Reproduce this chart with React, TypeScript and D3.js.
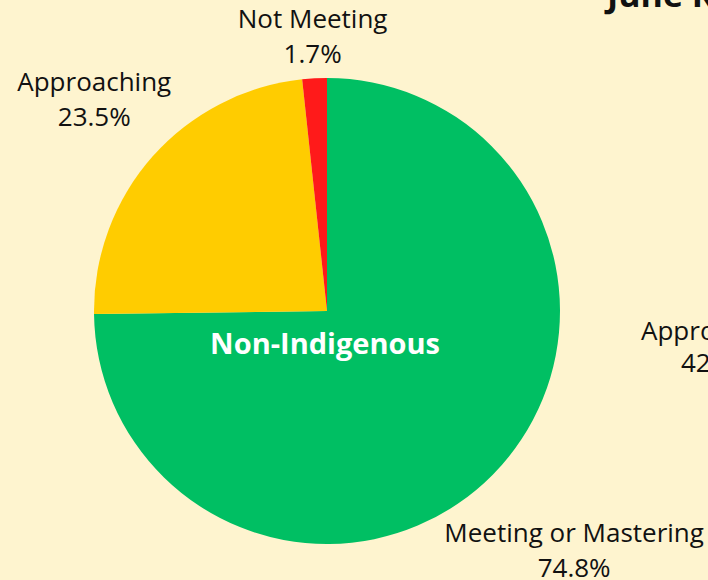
import React, { useEffect, useRef } from "react";
import * as d3 from "d3";

const categories = ["Meeting or Mastering", "Approaching", "Not Meeting"];
const values = [74.8, 23.5, 1.7];
const colors = ["#00BF63", "#FFCC00", "#FF1A1A"];
const groupTitle = "Non-Indigenous";
const nextTitle = "June Reading";
const nextLabel = ["Approaching", "42.3%"];

function App() {
  const ref = useRef(null);

  useEffect(() => {
    const width = 708;
    const height = 580;
    const cx = 327;
    const cy = 311;
    const radius = 233;
    const font = "'Open Sans', sans-serif";

    d3.select(ref.current).select("svg").remove();

    const svg = d3
      .select(ref.current)
      .append("svg")
      .attr("width", width)
      .attr("height", height)
      .style("position", "absolute")
      .style("left", 0)
      .style("top", 0);

    svg.append("rect").attr("width", width).attr("height", height).attr("fill", "#FEF4CF");

    const data = categories.map((c, i) => ({ key: c, value: values[i], color: colors[i] }));
    const pie = d3.pie().sort(null).value((d) => d.value);
    const arcs = pie(data);
    const arc = d3.arc().innerRadius(0).outerRadius(radius);

    const g = svg.append("g").attr("transform", `translate(${cx},${cy})`);

    g.selectAll("path")
      .data(arcs)
      .enter()
      .append("path")
      .attr("d", arc)
      .attr("fill", (d) => d.data.color);

    // outside labels, pushed out along the mid angle until the box clears the pie
    const gap = -3;
    const lift = 6;
    arcs.forEach((a) => {
      const mid = (a.startAngle + a.endAngle) / 2;
      const ux = Math.sin(mid);
      const uy = -Math.cos(mid);
      const t = g
        .append("text")
        .attr("text-anchor", "middle")
        .style("font-family", font)
        .style("font-size", "26px")
        .attr("fill", "#111");
      t.append("tspan").attr("x", 0).attr("dy", 0).text(a.data.key);
      t.append("tspan").attr("x", 0).attr("dy", 35).text(a.data.value.toFixed(1) + "%");
      const bb = t.node().getBBox();
      const hw = bb.width / 2;
      const hh = bb.height / 2;
      const d = radius + gap + Math.abs(ux) * hw + Math.abs(uy) * hh;
      const lx = ux * d;
      const ly = uy * d;
      t.attr("transform", `translate(${lx},${ly - (bb.y + hh) - lift})`);
    });

    g.append("text")
      .attr("x", -2)
      .attr("y", 43)
      .attr("text-anchor", "middle")
      .style("font-family", font)
      .style("font-size", "29px")
      .style("font-weight", "bold")
      .attr("fill", "#fff")
      .text(groupTitle);

    // neighbouring chart, cut off at the right edge
    svg
      .append("text")
      .attr("x", 607)
      .attr("y", 7)
      .style("font-family", font)
      .style("font-size", "34px")
      .style("font-weight", "bold")
      .attr("fill", "#111")
      .text(nextTitle);

    const nt = svg
      .append("text")
      .style("font-family", font)
      .style("font-size", "26px")
      .attr("fill", "#111");
    nt.append("tspan").attr("x", 641).attr("y", 340).text(nextLabel[0]);
    nt.append("tspan").attr("x", 681).attr("y", 372).text(nextLabel[1]);
  }, []);

  return <div ref={ref}></div>;
}

export default App;
